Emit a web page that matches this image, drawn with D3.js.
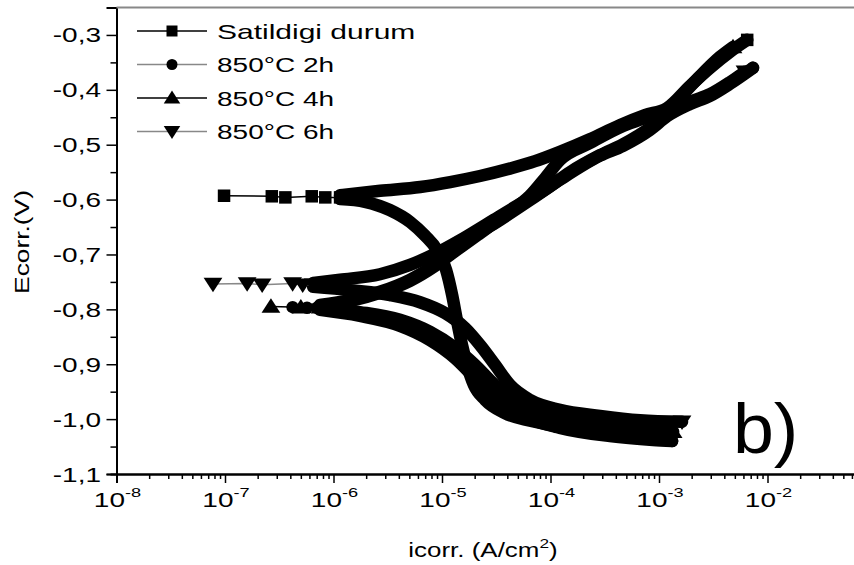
<!DOCTYPE html>
<html>
<head>
<meta charset="utf-8">
<script src="https://cdn.jsdelivr.net/npm/d3@7"></script>
<style>
  body { margin: 0; background: #fff; }
  text { font-family: "Liberation Sans", Arial, sans-serif; fill: #000; }
</style>
</head>
<body>
<div id="chart"></div>
<script>
// axis ticks
const xDecades = [-8, -7, -6, -5, -4, -3, -2];
const yTicks = [-1.1, -1.0, -0.9, -0.8, -0.7, -0.6, -0.5, -0.4, -0.3];

const seriesNames = ["Satildigi durum", "850°C 2h", "850°C 4h", "850°C 6h"];

// [i (A/cm2), E (V)]
// Satildigi durum
const satEcorr = [[9.8e-8, -0.593], [2.7e-7, -0.594], [3.6e-7, -0.596], [6.3e-7, -0.594], [8.4e-7, -0.596], [1.15e-6, -0.596]];
const satCathodic = [[1.15e-6, -0.599], [1.95e-6, -0.604], [3.3e-6, -0.619], [5.1e-6, -0.641], [7.0e-6, -0.666], [9.0e-6, -0.692],
  [1.09e-5, -0.728], [1.24e-5, -0.774], [1.37e-5, -0.819], [1.53e-5, -0.865], [1.70e-5, -0.901], [1.97e-5, -0.938],
  [2.5e-5, -0.965], [3.8e-5, -0.989], [6.5e-5, -1.003], [1.22e-4, -1.014]];
const satAnodic = [[1.15e-6, -0.592], [2.7e-6, -0.584], [6.3e-6, -0.577], [1.19e-5, -0.568], [2.24e-5, -0.557], [4.5e-5, -0.542],
  [7.2e-5, -0.530], [1.22e-4, -0.513], [2.3e-4, -0.490], [4.4e-4, -0.464], [7.4e-4, -0.446], [1.19e-3, -0.433],
  [1.93e-3, -0.393], [2.95e-3, -0.360], [4.5e-3, -0.331], [6.5e-3, -0.309]];

// 850°C 2h
const h2Ecorr = [[4.2e-7, -0.796], [5.7e-7, -0.797], [7.05e-7, -0.797], [7.5e-7, -0.798]];
const h2Cathodic = [[7.5e-7, -0.801], [1.75e-6, -0.812], [4.1e-6, -0.830], [7.75e-6, -0.856], [1.32e-5, -0.889], [2.01e-5, -0.925],
  [3.08e-5, -0.962], [5.24e-5, -0.992], [1.22e-4, -1.016], [3.53e-4, -1.031], [8.8e-4, -1.038], [1.32e-3, -1.040]];
const h2Anodic = [[7.5e-7, -0.792], [1.42e-6, -0.783], [2.68e-6, -0.768], [5.07e-6, -0.746], [8.6e-6, -0.719], [1.32e-5, -0.692],
  [2.0e-5, -0.666], [3.43e-5, -0.637], [6.47e-5, -0.601], [1.22e-4, -0.564], [2.86e-4, -0.520], [4.66e-4, -0.502],
  [8.26e-4, -0.473], [1.19e-3, -0.448], [1.93e-3, -0.426], [2.95e-3, -0.411], [4.51e-3, -0.389], [7.35e-3, -0.360]];

// 850°C 4h
const h4Ecorr = [[2.65e-7, -0.795], [5.0e-7, -0.796], [7.5e-7, -0.796]];
const h4Cathodic = [[7.5e-7, -0.797], [1.75e-6, -0.805], [4.1e-6, -0.819], [7.75e-6, -0.841], [1.32e-5, -0.870], [2.01e-5, -0.901],
  [3.08e-5, -0.938], [4.71e-5, -0.965], [8.9e-5, -0.992], [2.31e-4, -1.009], [5.41e-4, -1.018], [1.35e-3, -1.023]];
const h4Anodic = [[7.5e-7, -0.794], [1.42e-6, -0.785], [2.68e-6, -0.770], [5.07e-6, -0.748], [8.6e-6, -0.721], [1.32e-5, -0.694],
  [2.15e-5, -0.664], [3.81e-5, -0.628], [6.47e-5, -0.593], [8.9e-5, -0.561], [1.22e-4, -0.528], [2.31e-4, -0.497],
  [4.66e-4, -0.466], [7.43e-4, -0.451], [1.19e-3, -0.437], [1.74e-3, -0.404], [2.39e-3, -0.375], [3.65e-3, -0.340], [4.81e-3, -0.322]];

// 850°C 6h
const h6Ecorr = [[7.75e-8, -0.754], [1.6e-7, -0.753], [2.2e-7, -0.755], [4.2e-7, -0.753], [5.2e-7, -0.755], [6.5e-7, -0.755]];
const h6Cathodic = [[6.5e-7, -0.759], [1.42e-6, -0.765], [3.32e-6, -0.774], [6.27e-6, -0.787], [1.07e-5, -0.807], [1.63e-5, -0.834],
  [2.24e-5, -0.865], [3.08e-5, -0.901], [4.24e-5, -0.938], [6.47e-5, -0.965], [1.22e-4, -0.983], [2.86e-4, -0.994],
  [6.68e-4, -1.002], [1.63e-3, -1.005]];
const h6Anodic = [[6.5e-7, -0.752], [1.15e-6, -0.746], [2.68e-6, -0.736], [5.07e-6, -0.719], [8.6e-6, -0.699], [1.47e-5, -0.674],
  [2.77e-5, -0.641], [5.24e-5, -0.608], [8.9e-5, -0.582], [1.51e-4, -0.550], [2.86e-4, -0.519], [4.66e-4, -0.499],
  [8.26e-4, -0.469], [1.19e-3, -0.444], [1.93e-3, -0.422], [2.95e-3, -0.408], [4.51e-3, -0.386], [6.2e-3, -0.367]];

const series = [
  {name: seriesNames[0], marker: "square", thin: "#000", ecorr: satEcorr, branches: [satCathodic, satAnodic]},
  {name: seriesNames[1], marker: "circle", thin: "#888", ecorr: h2Ecorr, branches: [h2Cathodic, h2Anodic]},
  {name: seriesNames[2], marker: "up", thin: "#000", ecorr: h4Ecorr, branches: [h4Cathodic, h4Anodic]},
  {name: seriesNames[3], marker: "down", thin: "#888", ecorr: h6Ecorr, branches: [h6Cathodic, h6Anodic]}
];

const W = 854, H = 565;
const stretch = 1.4; // the figure's lettering is drawn wide

const svg = d3.select("#chart").append("svg")
  .attr("width", W).attr("height", H);

const x = d3.scaleLog().domain([1e-8, 1e-1]).range([116.5, 876]);
const y = d3.scaleLinear().domain([-1.1, -0.25]).range([474, 7.5]);

function markerPath(type, s) {
  if (type === "square") return d3.symbol(d3.symbolSquare, s * s)();
  if (type === "circle") return d3.symbol(d3.symbolCircle, Math.PI * s * s / 4)();
  let w = s * 0.75, h = s * 0.5;
  if (type === "up") return `M${-w},${h}L${w},${h}L0,${-h - 2}Z`;
  return `M${-w},${-h}L${w},${-h}L0,${h + 2}Z`;
}

function wideText(g, tx, ty, str, size, anchor, sx) {
  let t = g.append("g")
    .attr("transform", `translate(${tx},${ty}) scale(${sx || stretch},1)`)
    .append("text")
    .attr("font-size", size)
    .attr("text-anchor", anchor || "start");
  t.text(str);
  return t;
}

// plot
const plot = svg.append("g");
const line = d3.line().x(d => x(d[0])).y(d => y(d[1])).curve(d3.curveMonotoneX);

series.forEach(s => {
  // dense part of the scan: overlapping markers form a solid band
  s.branches.forEach(b => {
    plot.append("path")
      .attr("d", line(b))
      .attr("fill", "none")
      .attr("stroke", "#000")
      .attr("stroke-width", 12.5)
      .attr("stroke-linejoin", "round")
      .attr("stroke-linecap", "round");
  });
  // sparse points near Ecorr
  plot.append("path")
    .attr("d", d3.line().x(d => x(d[0])).y(d => y(d[1]))(s.ecorr))
    .attr("fill", "none")
    .attr("stroke", s.thin)
    .attr("stroke-width", 1.5);
  let pts = s.ecorr.concat(s.branches.map(b => b[b.length - 1]));
  plot.selectAll(null).data(pts).enter().append("path")
    .attr("transform", d => `translate(${x(d[0])},${y(d[1])})`)
    .attr("d", markerPath(s.marker, 12.5))
    .attr("fill", "#000");
});

// axes
const xMinor = [];
xDecades.forEach(e => { for (let k = 2; k <= 9; k++) xMinor.push(k * Math.pow(10, e)); });

const xAxisG = svg.append("g").attr("transform", "translate(0,474)");
xAxisG.append("g").call(d3.axisBottom(x).tickValues(xMinor).tickSize(5).tickFormat(""));
xAxisG.append("g").call(d3.axisBottom(x).tickValues(xDecades.map(e => Math.pow(10, e))).tickSize(9).tickFormat(""));
xAxisG.selectAll("path.domain").attr("stroke-width", 2);
xAxisG.selectAll(".tick line").attr("stroke-width", 1.5);

const yMinor = d3.range(-1.05, -0.25, 0.1);
const yAxisG = svg.append("g").attr("transform", "translate(116.5,0)");
yAxisG.append("g").call(d3.axisLeft(y).tickValues(yMinor).tickSize(6).tickFormat(""));
yAxisG.append("g").call(d3.axisLeft(y).tickValues(yTicks).tickSize(10).tickFormat(""));
yAxisG.selectAll("path.domain").attr("stroke-width", 2);
yAxisG.selectAll(".tick line").attr("stroke-width", 1.5);

// top frame
svg.append("line")
  .attr("x1", 116.5).attr("x2", W).attr("y1", 7.5).attr("y2", 7.5)
  .attr("stroke", "#888").attr("stroke-width", 2);

// tick labels
yTicks.forEach(v => {
  wideText(svg, 101, y(v) + 7.5, v.toFixed(1).replace(".", ","), 20, "end");
});
xDecades.forEach(e => {
  let t = wideText(svg, x(Math.pow(10, e)) + 1, 507, "", 20, "middle");
  t.append("tspan").text("10");
  t.append("tspan").attr("font-size", 13).attr("dy", -10).text(e);
});

// axis titles
let xt = wideText(svg, 483, 557, "", 19.5, "middle", 1.33);
xt.append("tspan").text("icorr. (A/cm");
xt.append("tspan").attr("font-size", 13).attr("dy", -9).text("2");
xt.append("tspan").attr("dy", 9).text(")");

svg.append("g")
  .attr("transform", `translate(29,242) rotate(-90) scale(1.35,1)`)
  .append("text")
  .attr("font-size", 19.5)
  .attr("text-anchor", "middle")
  .text("Ecorr.(V)");

// panel letter
wideText(svg, 733, 453, "b)", 70, "start", 1.05);

// legend
const legend = svg.append("g").attr("class", "legend");
series.forEach((s, i) => {
  let ly = 31 + i * 33.5;
  legend.append("line")
    .attr("x1", 137).attr("x2", 207).attr("y1", ly).attr("y2", ly)
    .attr("stroke", s.thin).attr("stroke-width", 1.5);
  legend.append("path")
    .attr("transform", `translate(172,${ly})`)
    .attr("d", markerPath(s.marker, 11))
    .attr("fill", "#000");
  wideText(legend, 217, ly + 7.5, s.name, 20, "start", i === 0 ? 1.5 : 1.4);
});
</script>
</body>
</html>
